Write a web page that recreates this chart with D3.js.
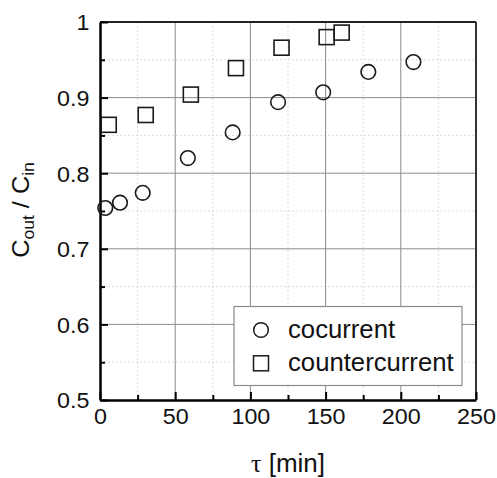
<!DOCTYPE html>
<html>
<head>
<meta charset="utf-8">
<script src="https://cdn.jsdelivr.net/npm/d3@7"></script>
<style>
  html, body { margin: 0; padding: 0; background: #fff; }
  svg { display: block; }
  text { font-family: "Liberation Sans", Arial, Helvetica, sans-serif; fill: #111; }
</style>
</head>
<body>
<svg id="chart" width="497" height="478"></svg>
<script>
// ---- data ----
const cocurrentTau = [3.5, 13.3, 28.4, 58.4, 88.2, 118.4, 148.4, 178.4, 208.4];
const cocurrentRatio = [0.754, 0.761, 0.774, 0.820, 0.854, 0.894, 0.907, 0.934, 0.947];
const counterTau = [5.8, 30.4, 60.4, 90.4, 120.7, 150.7, 160.7];
const counterRatio = [0.864, 0.877, 0.904, 0.939, 0.966, 0.980, 0.986];
const xMajorTicks = [0, 50, 100, 150, 200, 250];
const xMinorTicks = [25, 75, 125, 175, 225];
const yMajorTicks = [0.5, 0.6, 0.7, 0.8, 0.9, 1];
const yMinorTicks = [0.55, 0.65, 0.75, 0.85, 0.95];
const yTickLabels = ["0.5", "0.6", "0.7", "0.8", "0.9", "1"];
const seriesNames = ["cocurrent", "countercurrent"];

const svg = d3.select("#chart");
const L = 100, T = 22, R = 476, B = 400;
const x = d3.scaleLinear().domain([0, 250]).range([L, R]);
const y = d3.scaleLinear().domain([0.5, 1]).range([B, T]);

// minor grid
const grid = svg.append("g");
grid.selectAll(".mx").data(xMinorTicks).join("line")
  .attr("x1", d => x(d)).attr("x2", d => x(d)).attr("y1", T).attr("y2", B)
  .attr("stroke", "#d4d4d4").attr("stroke-width", 0.8).attr("stroke-dasharray", "2,2");
grid.selectAll(".my").data(yMinorTicks).join("line")
  .attr("class", "my")
  .attr("y1", d => y(d)).attr("y2", d => y(d)).attr("x1", L).attr("x2", R)
  .attr("stroke", "#d4d4d4").attr("stroke-width", 0.8).attr("stroke-dasharray", "2,2");
// major grid
grid.selectAll(".gx").data(xMajorTicks.slice(1, -1)).join("line")
  .attr("class", "gx")
  .attr("x1", d => x(d)).attr("x2", d => x(d)).attr("y1", T).attr("y2", B)
  .attr("stroke", "#8a8a8a").attr("stroke-width", 1);
grid.selectAll(".gy").data(yMajorTicks.slice(1, -1)).join("line")
  .attr("class", "gy")
  .attr("y1", d => y(d)).attr("y2", d => y(d)).attr("x1", L).attr("x2", R)
  .attr("stroke", "#8a8a8a").attr("stroke-width", 1);

// frame top/right
svg.append("line").attr("x1", L).attr("x2", R).attr("y1", T).attr("y2", T)
  .attr("stroke", "#222").attr("stroke-width", 2);
svg.append("line").attr("x1", R).attr("x2", R).attr("y1", T).attr("y2", B)
  .attr("stroke", "#333").attr("stroke-width", 2);

// axes
const xAxis = svg.append("g").attr("transform", `translate(0,${B})`)
  .call(d3.axisBottom(x).tickValues(xMajorTicks).tickSizeInner(-8).tickSizeOuter(0).tickPadding(8).tickFormat(d3.format("d")));
svg.append("g").attr("transform", `translate(0,${B})`)
  .call(d3.axisBottom(x).tickValues(xMinorTicks).tickSizeInner(-5).tickSizeOuter(0).tickFormat(""))
  .call(g => g.select(".domain").remove());
const yAxis = svg.append("g").attr("transform", `translate(${L},0)`)
  .call(d3.axisLeft(y).tickValues(yMajorTicks).tickSizeInner(-8).tickSizeOuter(0).tickPadding(10)
    .tickFormat((d, i) => yTickLabels[i]));
svg.append("g").attr("transform", `translate(${L},0)`)
  .call(d3.axisLeft(y).tickValues(yMinorTicks).tickSizeInner(-5).tickSizeOuter(0).tickFormat(""))
  .call(g => g.select(".domain").remove());

svg.selectAll(".domain").attr("stroke", "#000").attr("stroke-width", 2.5);
svg.selectAll(".tick line").attr("stroke", "#000").attr("stroke-width", 2);
xAxis.selectAll("text").attr("font-size", 22).attr("fill", "#111")
  .attr("font-family", "Liberation Sans, Arial, sans-serif")
  .attr("y", 0).attr("dy", 0)
  .attr("transform", "translate(0,23.7) scale(1.06,1)");
yAxis.selectAll("text").attr("font-size", 22).attr("fill", "#111")
  .attr("font-family", "Liberation Sans, Arial, sans-serif")
  .attr("x", 0).attr("dy", 0)
  .attr("transform", "translate(-10.5,7.9) scale(1.06,1)");

// markers
const circData = cocurrentTau.map((t, i) => ({ t, v: cocurrentRatio[i] }));
const sqData = counterTau.map((t, i) => ({ t, v: counterRatio[i] }));
svg.append("g").selectAll("circle").data(circData).join("circle")
  .attr("cx", d => x(d.t)).attr("cy", d => y(d.v)).attr("r", 7.3)
  .attr("fill", "none").attr("stroke", "#1a1a1a").attr("stroke-width", 1.6);
const S = 15;
svg.append("g").selectAll("rect").data(sqData).join("rect")
  .attr("x", d => x(d.t) - S / 2).attr("y", d => y(d.v) - S / 2).attr("width", S).attr("height", S)
  .attr("fill", "none").attr("stroke", "#1a1a1a").attr("stroke-width", 1.6);

// legend
const lg = svg.append("g");
lg.append("rect").attr("x", 234).attr("y", 306.5).attr("width", 228).attr("height", 79)
  .attr("fill", "#fff").attr("stroke", "#8a8a8a").attr("stroke-width", 1.2);
lg.append("circle").attr("cx", 261).attr("cy", 330).attr("r", 7.3)
  .attr("fill", "none").attr("stroke", "#1a1a1a").attr("stroke-width", 1.5);
lg.append("rect").attr("x", 261 - 7.5).attr("y", 363.3 - 7.5).attr("width", 15).attr("height", 15)
  .attr("fill", "none").attr("stroke", "#1a1a1a").attr("stroke-width", 1.5);
lg.append("text").attr("x", 288).attr("y", 337.5).attr("font-size", 25.7).text(seriesNames[0]);
lg.append("text").attr("x", 288).attr("y", 370.5).attr("font-size", 25.7).text(seriesNames[1]);

// x label
const xl = svg.append("text").attr("x", 288).attr("y", 472).attr("text-anchor", "middle").attr("font-size", 26);
xl.append("tspan").attr("font-family", "Liberation Serif, Times New Roman, serif").text("τ");
xl.append("tspan").text(" [min]");

// y label
const yl = svg.append("text").attr("text-anchor", "middle").attr("font-size", 23)
  .attr("transform", "translate(28.5,210) rotate(-90) scale(1.1,1)");
yl.append("tspan").text("C");
yl.append("tspan").attr("font-size", 16).attr("dy", 5).text("out");
yl.append("tspan").attr("dy", -5).text(" / C");
yl.append("tspan").attr("font-size", 16).attr("dy", 5).text("in");
</script>
</body>
</html>
